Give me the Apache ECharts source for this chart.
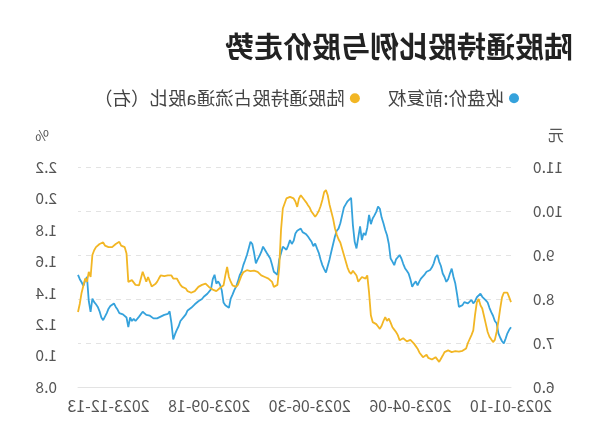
<!DOCTYPE html>
<html>
<head>
<meta charset="utf-8">
<script src="https://cdn.jsdelivr.net/npm/echarts@6/dist/echarts.min.js"></script>
<style>
html,body{margin:0;padding:0;background:#fff;}
#wrap{width:600px;height:446px;transform:scaleX(-1);transform-origin:50% 50%;}
#chart{width:600px;height:446px;}
</style>
</head>
<body>
<div id="wrap"><div id="chart"></div></div>
<script>
// Trading days (month -> day numbers)
const tradingDays = [
  ["2023-01", [10,11,12,13,16,17,18,19,20,30,31]],
  ["2023-02", [1,2,3,6,7,8,9,10,13,14,15,16,17,20,21,22,23,24,27,28]],
  ["2023-03", [1,2,3,6,7,8,9,10,13,14,15,16,17,20,21,22,23,24,27,28,29,30,31]],
  ["2023-04", [3,4,6,7,10,11,12,13,14,17,18,19,20,21,24,25,26,27,28]],
  ["2023-05", [4,5,8,9,10,11,12,15,16,17,18,19,22,23,24,25,26,29,30,31]],
  ["2023-06", [1,2,5,6,7,8,9,12,13,14,15,16,19,20,21,26,27,28,29,30]],
  ["2023-07", [3,4,5,6,7,10,11,12,13,14,17,18,19,20,21,24,25,26,27,28,31]],
  ["2023-08", [1,2,3,4,7,8,9,10,11,14,15,16,17,18,21,22,23,24,25,28,29,30,31]],
  ["2023-09", [1,4,5,6,7,8,11,12,13,14,15,18,19,20,21,22,25,26,27,28]],
  ["2023-10", [9,10,11,12,13,16,17,18,19,20,23,24,25,26,27,30,31]],
  ["2023-11", [1,2,3,6,7,8,9,10,13,14,15,16,17,20,21,22,23,24,27,28,29,30]],
  ["2023-12", [1,4,5,6,7,8,11,12,13,14,15,18,19,20,21,22,25,26,27,28,29]],
  ["2024-01", [2,3,4,5,8]]
];
const categories = [];
tradingDays.forEach(([m, days]) => days.forEach(d => categories.push(m + "-" + String(d).padStart(2, "0"))));

// 收盘价:前复权 (元, left axis)
const closePrice = [
7.36,7.30,7.22,7.10,6.99,7.04,7.12,7.22,7.45,7.50,
7.62,7.70,7.80,7.92,7.97,7.93,8.05,8.12,8.16,8.04,
7.95,7.90,7.98,7.95,7.90,7.88,7.93,7.86,7.84,7.82,
8.10,8.35,8.50,8.69,8.58,8.45,8.39,8.50,8.58,8.75,
8.85,9.00,8.95,8.81,8.72,8.66,8.70,8.62,8.56,8.52,
8.47,8.40,8.31,8.40,8.35,8.28,8.45,8.58,8.64,8.70,
8.80,8.92,9.00,8.95,8.90,8.77,8.85,8.92,9.25,9.45,
9.57,9.72,9.85,10.05,10.10,9.98,9.90,9.83,9.70,9.91,
9.62,9.45,9.50,9.34,9.65,9.40,9.15,9.30,9.68,10.30,
10.32,10.22,10.15,10.08,9.90,9.72,9.60,9.55,9.42,9.25,
9.08,8.90,8.75,8.60,8.68,8.77,8.90,9.05,9.15,9.26,
9.20,9.30,9.36,9.42,9.47,9.45,9.52,9.60,9.58,9.55,
9.49,9.32,9.25,9.34,9.22,9.12,9.15,9.19,9.20,8.90,
8.55,8.58,8.62,8.78,8.92,8.96,9.05,9.12,9.19,9.07,
8.98,8.90,8.81,9.05,9.25,9.30,9.15,9.00,8.88,8.77,
8.62,8.54,8.40,8.28,8.20,8.10,8.01,7.80,7.78,7.86,
7.92,8.20,8.33,8.40,8.35,8.55,8.45,8.22,8.18,8.12,
8.08,8.05,8.00,7.98,7.95,7.93,7.88,7.84,7.80,7.78,
7.74,7.65,7.60,7.56,7.50,7.38,7.30,7.20,7.08,7.45,
7.72,7.66,7.67,7.64,7.62,7.60,7.62,7.56,7.58,7.56,
7.60,7.62,7.59,7.64,7.68,7.71,7.70,7.60,7.56,7.50,
7.55,7.50,7.58,7.36,7.58,7.62,7.65,7.63,7.68,7.76,
7.82,7.90,7.93,7.84,7.78,7.68,7.60,7.52,7.58,7.72,
7.82,7.88,7.93,8.01,7.71,7.95,8.50,8.42,8.30,8.38,
8.45,8.55
];

// 陆股通持股占流通a股比 (%, right axis)
const holdPct = [
1.34,1.37,1.40,1.405,1.40,1.37,1.30,1.22,1.15,1.10,
1.086,1.09,1.12,1.15,1.20,1.25,1.30,1.32,1.36,1.34,
1.26,1.16,1.13,1.135,1.08,1.045,1.035,1.03,1.022,1.025,
1.022,1.028,1.03,1.022,1.028,1.033,1.03,1.022,1.00,0.98,
0.96,0.965,0.99,0.985,0.975,0.97,0.985,1.005,1.00,0.99,
1.00,1.02,1.044,1.06,1.076,1.08,1.10,1.108,1.09,1.086,
1.11,1.10,1.097,1.13,1.15,1.165,1.18,1.21,1.235,1.22,
1.245,1.22,1.19,1.17,1.185,1.20,1.205,1.213,1.256,1.40,
1.51,1.49,1.50,1.50,1.49,1.47,1.51,1.52,1.54,1.52,
1.533,1.56,1.60,1.64,1.68,1.72,1.74,1.77,1.81,1.87,
1.915,1.96,2.02,2.053,2.04,1.99,1.95,1.92,1.90,1.883,
1.90,1.915,1.94,1.957,1.975,1.99,1.99,2.02,2.00,1.946,
1.98,2.00,2.00,2.01,2.01,2.00,1.99,1.936,1.80,1.56,
1.45,1.46,1.437,1.469,1.48,1.49,1.50,1.50,1.505,1.51,
1.52,1.533,1.535,1.54,1.54,1.538,1.54,1.543,1.543,1.53,
1.51,1.50,1.45,1.437,1.447,1.447,1.47,1.50,1.564,1.51,
1.447,1.435,1.43,1.42,1.41,1.415,1.42,1.427,1.435,1.44,
1.458,1.455,1.45,1.44,1.437,1.425,1.41,1.405,1.40,1.395,
1.41,1.427,1.43,1.437,1.45,1.47,1.49,1.50,1.49,1.51,
1.522,1.51,1.505,1.505,1.51,1.51,1.49,1.469,1.455,1.447,
1.44,1.437,1.50,1.47,1.46,1.533,1.49,1.447,1.458,1.45,
1.447,1.48,1.47,1.469,1.65,1.69,1.68,1.70,1.724,1.72,
1.71,1.70,1.69,1.68,1.69,1.70,1.70,1.72,1.724,1.71,
1.70,1.69,1.67,1.64,1.50,1.533,1.47,1.49,1.50,1.40,
1.33,1.277
];

const FONT = "'Noto Sans CJK SC','Noto Sans',sans-serif";
const chart = echarts.init(document.getElementById('chart'), null, {renderer: 'canvas'});
chart.setOption({
  animation: false,
  backgroundColor: '#fff',
  textStyle: {fontFamily: FONT},
  title: {
    text: '陆股通持股比例与股价走势',
    left: 22, top: 27,
    textStyle: {fontSize: 29, fontWeight: 'bold', color: '#222', fontFamily: FONT}
  },
  legend: {
    top: 84, left: 76,
    itemWidth: 10, itemHeight: 10, itemGap: 28,
    icon: 'circle',
    textStyle: {fontSize: 18.5, color: '#444', fontFamily: FONT},
    data: ['收盘价:前复权', '陆股通持股占流通a股比（右）']
  },
  grid: {left: 89, right: 78, top: 167, bottom: 59},
  xAxis: {
    type: 'category',
    boundaryGap: false,
    data: categories,
    axisLine: {lineStyle: {color: '#e3e3e3'}},
    axisTick: {show: false},
    axisLabel: {interval: 55, color: '#555', fontSize: 16, margin: 11, fontFamily: FONT}
  },
  yAxis: [
    {
      type: 'value', min: 6, max: 11, interval: 1,
      name: '元', nameLocation: 'end', nameGap: 24,
      nameTextStyle: {color: '#555', fontSize: 16, align: 'right', padding: [0, 37, 0, 0], fontFamily: FONT},
      axisLine: {show: false}, axisTick: {show: false},
      axisLabel: {color: '#555', fontSize: 15.5, margin: 22, formatter: v => v.toFixed(1), fontFamily: FONT},
      splitLine: {lineStyle: {color: '#e3e3e3', type: [5, 5]}}
    },
    {
      type: 'value', min: 0.8, max: 2.2, interval: 0.2,
      name: '%', nameLocation: 'end', nameGap: 24,
      nameTextStyle: {color: '#555', fontSize: 15, align: 'left', padding: [0, 0, 0, 29], fontFamily: FONT},
      axisLine: {show: false}, axisTick: {show: false},
      axisLabel: {color: '#555', fontSize: 15.5, margin: 21, formatter: v => v.toFixed(1), fontFamily: FONT},
      splitLine: {show: false}
    }
  ],
  series: [
    {
      name: '收盘价:前复权', type: 'line', yAxisIndex: 0,
      data: closePrice, showSymbol: false, symbol: 'none',
      itemStyle: {color: '#35a2dc'},
      lineStyle: {color: '#35a2dc', width: 1.8}
    },
    {
      name: '陆股通持股占流通a股比（右）', type: 'line', yAxisIndex: 1,
      data: holdPct, showSymbol: false, symbol: 'none',
      itemStyle: {color: '#f2b624'},
      lineStyle: {color: '#f2b624', width: 1.8}
    }
  ]
});
</script>
</body>
</html>
